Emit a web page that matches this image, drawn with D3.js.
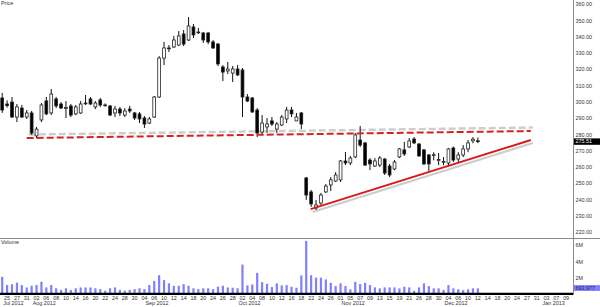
<!DOCTYPE html>
<html><head><meta charset="utf-8">
<script src="https://cdn.jsdelivr.net/npm/d3@7"></script>
<style>
body{margin:0;background:#fff}
svg{display:block}
text{font-family:"Liberation Sans",Arial,sans-serif;font-size:5.4px;fill:#333}
</style>
</head><body><svg id="c" width="600" height="307"></svg>
<script>
// ---- data (trading-day index 0 = 24 Jul 2012) ----
const opens  = [302.3,298.6,299.8,290.6,296.1,290.6,293.1,279.0,288.8,300.5,293.1,301.7,298.6,295.8,297.4,292.5,293.1,299.2,301.7,296.8,
                301.1,298.0,297.4,293.1,295.5,291.8,295.5,293.1,292.5,290.0,286.9,290.6,302.9,326.8,333.0,333.6,334.8,341.6,337.9,345.9,
                342.8,342.2,342.2,336.7,335.4,321.3,318.9,317.6,320.1,319.5,302.9,302.3,294.9,281.4,284.5,288.2,283.2,285.7,289.4,294.9,
                288.2,293.1,253.2,244.6,234.7,237.8,244.6,248.9,251.3,252.0,263.6,262.4,266.1,276.5,274.7,264.2,260.5,261.1,264.8,260.5,
                258.7,266.1,270.4,272.2,277.1,274.0,270.4,267.3,267.3,264.0,263.0,262.4,271.6,264.8,267.3,271.0,276.0,276.0];
const highs  = [305.4,300.8,302.9,298.6,298.0,294.9,294.3,284.5,299.2,302.9,307.8,302.9,299.8,300.4,298.6,298.0,300.4,304.1,302.9,300.4,
                302.3,299.0,298.0,297.4,296.8,296.1,297.4,293.7,293.7,291.2,290.6,303.5,328.0,336.7,334.8,340.4,343.4,344.0,352.0,347.7,
                345.3,342.8,342.8,337.9,336.1,322.5,324.4,321.9,322.5,320.7,304.7,302.9,296.1,291.8,290.0,290.6,287.5,291.8,296.8,296.8,
                293.1,293.7,253.8,245.8,239.7,244.0,249.5,253.8,256.8,264.2,269.1,266.7,280.8,285.1,275.3,265.4,265.4,266.7,265.4,261.8,
                264.2,271.6,275.3,277.7,278.3,274.7,271.0,267.9,269.0,268.5,266.0,271.6,272.5,269.0,273.4,276.5,278.3,278.0];
const lows   = [293.1,296.4,290.0,287.5,290.0,289.4,279.6,277.7,287.5,291.8,291.8,296.1,295.5,290.0,290.6,291.8,292.5,298.0,298.0,295.5,
                296.8,297.0,291.2,290.6,291.2,290.6,293.1,288.8,286.9,283.9,286.3,290.0,302.3,322.5,330.5,333.0,334.2,334.2,337.3,339.1,
                341.6,336.1,335.4,332.4,321.9,312.7,317.0,312.1,315.8,290.6,299.8,293.1,278.3,280.2,280.8,285.1,280.8,285.1,286.9,290.6,
                288.2,283.2,239.7,235.4,233.5,236.6,244.0,245.2,250.7,250.7,261.1,261.1,265.4,272.2,260.5,258.0,259.9,259.9,255.0,253.8,
                258.0,265.4,266.7,271.6,274.0,266.1,261.1,257.5,264.0,261.0,261.0,260.0,263.0,263.0,266.0,269.0,274.5,274.5];
const closes = [294.9,297.6,290.6,296.8,290.6,293.1,280.8,283.2,298.0,292.5,304.7,297.4,296.1,296.4,291.8,296.8,298.6,298.9,298.6,299.2,
                298.0,297.7,291.8,295.5,293.1,294.3,294.3,290.0,289.4,286.3,289.4,302.9,326.8,333.0,332.5,337.9,340.4,335.4,346.5,341.0,
                342.5,337.9,336.7,333.0,323.2,318.2,320.1,320.1,316.4,302.9,300.4,293.7,280.8,286.9,286.3,286.3,286.3,290.6,294.9,292.5,
                290.6,286.3,242.7,237.2,236.6,242.7,248.2,252.0,255.0,263.6,262.4,265.4,279.6,273.4,261.1,261.8,263.6,265.4,256.2,255.0,
                263.0,271.0,267.9,275.9,274.7,266.7,261.8,261.8,267.5,264.5,263.3,271.0,264.2,267.3,271.0,274.7,277.0,275.51];
const volumes = [2.1,1.1,1.2,1.4,1.1,0.8,1.0,1.1,1.5,0.8,1.1,0.7,0.5,0.7,0.5,0.7,0.8,0.8,0.8,0.7,
                 0.6,0.4,0.7,0.8,0.5,0.4,0.5,0.6,0.7,0.6,1.1,1.6,2.3,1.7,1.3,1.0,1.0,1.2,1.0,0.7,
                 0.6,0.7,0.7,0.6,0.9,1.0,0.8,0.77,0.7,3.6,1.05,1.17,2.58,1.45,1.25,0.85,1.3,1.05,1.09,0.89,
                 0.77,2.27,6.5,2.3,2.0,2.0,1.78,1.37,0.97,1.3,0.97,0.57,1.49,1.21,1.37,1.09,0.81,0.69,0.81,0.81,
                 0.81,0.69,0.89,0.81,0.4,0.81,1.3,0.97,0.69,0.69,0.48,1.09,0.69,0.57,0.48,0.57,0.69,0.694];
const lastVolume = 693977;
const dayLabels = ["25","27","31","02","06","08","10","14","16","20","22","24","28","30","04","06","10","12","14","18",
                   "20","24","26","28","02","04","08","10","12","16","18","22","24","26","01","05","07","09","13","15",
                   "19","21","26","28","30","04","06","10","12","14","18","20","24","27","31","03","07","09"]; // every 2nd day from index 1
const monthLabels = ["Jul 2012","Aug 2012","Sep 2012","Oct 2012","Nov 2012","Dec 2012","Jan 2013"];
const monthStart  = [0,6,29,48,69,90,110];
const priceTicks  = [220,230,240,250,260,270,280,290,300,310,320,330,340,350,360];
const volumeTicks = [2e6,4e6,6e6];
const resistance  = [[5.0,277.7],[107.8,282.0]];
const support     = [[62.9,234.1],[107.8,276.5]];

// ---- drawing ----
const svg = d3.select("#c");
const plotR = 573;
const x  = d3.scaleLinear().domain([-0.45,116.4]).range([0,plotR]);
const y  = d3.scaleLinear().domain([220,360]).range([232,4]);
const yv = d3.scaleLinear().domain([0,6e6]).range([294,245]);

// frame lines
svg.append("line").attr("x1",0).attr("x2",600).attr("y1",238.5).attr("y2",238.5).attr("stroke","#8a8a8a").attr("stroke-width",1);
svg.append("line").attr("x1",plotR+0.5).attr("x2",plotR+0.5).attr("y1",0).attr("y2",295).attr("stroke","#8a8a8a").attr("stroke-width",1);

svg.append("text").attr("x",1).attr("y",4.8).text("Price");
svg.append("text").attr("x",1).attr("y",243.6).text("Volume");

// price axis
const ya = svg.append("g").attr("transform",`translate(${plotR+0.5},0)`)
  .call(d3.axisRight(y).tickValues(priceTicks).tickSize(0).tickPadding(2).tickFormat(d3.format(".2f")));
ya.select(".domain").remove();
ya.selectAll("text").style("font-size","5.4px").style("fill","#333").style("font-family","Liberation Sans, Arial, sans-serif");

// volume axis
const va = svg.append("g").attr("transform",`translate(${plotR+0.5},0)`)
  .call(d3.axisRight(yv).tickValues(volumeTicks).tickSize(0).tickPadding(2).tickFormat(d=>d/1e6+"M"));
va.select(".domain").remove();
va.selectAll("text").style("font-size","5.4px").style("fill","#333").style("font-family","Liberation Sans, Arial, sans-serif");

// trend lines with shadows
const line = d3.line().x(d=>x(d[0])).y(d=>y(d[1]));
svg.append("path").attr("d",line(resistance)).attr("transform","translate(2,-3.5)")
  .attr("fill","none").attr("stroke","#cdcdcd").attr("stroke-width",2.4).attr("stroke-dasharray","7,3");
svg.append("path").attr("d",line(support)).attr("transform","translate(2,3)")
  .attr("fill","none").attr("stroke","#cdcdcd").attr("stroke-width",2.2);

// candles
const idx = d3.range(closes.length);
const g = svg.append("g");
g.selectAll("line.w").data(idx).join("line")
  .attr("x1",i=>x(i)).attr("x2",i=>x(i))
  .attr("y1",i=>y(highs[i])).attr("y2",i=>y(lows[i]))
  .attr("stroke","#111").attr("stroke-width",1);
g.selectAll("rect.b").data(idx).join("rect")
  .attr("x",i=>x(i)-1.4).attr("width",2.8)
  .attr("y",i=>y(Math.max(opens[i],closes[i])))
  .attr("height",i=>Math.max(0.8,Math.abs(y(opens[i])-y(closes[i]))))
  .attr("fill",i=>closes[i]<opens[i]?"#000":"#fff")
  .attr("stroke","#222").attr("stroke-width",0.8);

svg.append("path").attr("d",line(resistance))
  .attr("fill","none").attr("stroke","#d42222").attr("stroke-width",2).attr("stroke-dasharray","7,3");
svg.append("path").attr("d",line(support))
  .attr("fill","none").attr("stroke","#d81818").attr("stroke-width",1.9);

// volume bars
svg.append("g").selectAll("rect").data(idx).join("rect")
  .attr("x",i=>x(i)-1.1).attr("width",2.2)
  .attr("y",i=>yv(volumes[i]*1e6)).attr("height",i=>yv(0)-yv(volumes[i]*1e6))
  .attr("fill","#7f7fff");

// bottom axis
svg.append("line").attr("x1",0).attr("x2",plotR).attr("y1",293.8).attr("y2",293.8).attr("stroke","#000").attr("stroke-width",2.2);
svg.append("g").selectAll("text").data(dayLabels).join("text")
  .attr("x",(d,k)=>x(2*k+1)).attr("y",299.6).attr("text-anchor","middle").text(d=>d);
svg.append("g").selectAll("text").data(monthLabels).join("text")
  .attr("x",(d,k)=>x(monthStart[k])+1).attr("y",305.3).text(d=>d);

// last value markers
const lp = closes[closes.length-1];
svg.append("rect").attr("x",plotR+1).attr("y",y(lp)-3.2).attr("width",600-plotR-1).attr("height",6.4).attr("fill","#000");
svg.append("text").attr("x",plotR+2.5).attr("y",y(lp)+1.9).style("fill","#fff").text(d3.format(".2f")(lp));
svg.append("rect").attr("x",plotR+1).attr("y",yv(lastVolume)-3.2).attr("width",600-plotR-1).attr("height",5.8).attr("fill","#8080ff");
svg.append("text").attr("x",plotR+2.5).attr("y",yv(lastVolume)+1.6).style("fill","#202060").text(d3.format(",")(lastVolume));
</script>
</body></html>
